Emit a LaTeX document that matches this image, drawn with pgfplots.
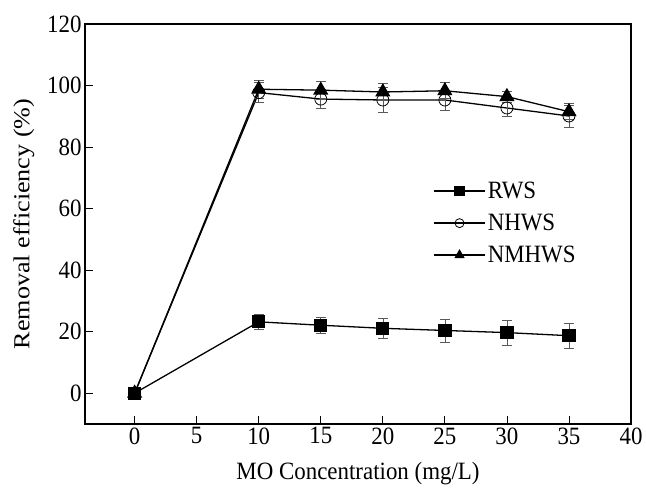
\documentclass[border=0pt]{standalone}
\usepackage{pgfplots}
\pgfplotsset{compat=1.18}
\usepackage{fontspec}
\setmainfont{Liberation Serif}
\newfontfamily\hfont[FakeStretch=0.92]{Liberation Serif}
\newfontfamily\vfont[FakeStretch=1.14]{Liberation Serif}
\begin{document}
\begin{tikzpicture}
\begin{axis}[
  scale only axis,
  width=546bp, height=400bp,
  xmin=-4, xmax=40, ymin=-10, ymax=120,
  xtick={0,5,...,40}, ytick={0,20,...,120},
  tick align=inside,
  xtick pos=bottom, ytick pos=left,
  major tick length=8bp,
  axis line style={line width=1.2pt},
  tick style={black, line width=0.8pt},
  font=\hfont\fontsize{25}{29}\selectfont,
  /pgf/number format/assume math mode=true,
  xlabel={MO Concentration (mg/L)},
  ylabel={Removal efficiency (\%)},
  xlabel style={at={(axis description cs:0.5,-0.123)}, anchor=center},
  ylabel style={at={(axis description cs:-0.112,0.5)}, anchor=center, font=\vfont\fontsize{23}{27}\selectfont},
  legend style={draw=none, fill=none, at={(0.632,0.615)}, anchor=north west,
    font=\hfont\fontsize{25}{29}\selectfont, row sep=10bp},
  legend cell align=left,
  legend image code/.code={\draw[mark repeat=2,mark phase=2,mark size=4.5bp,line width=1.5pt] plot coordinates {(0cm,0cm) (0.9cm,0cm) (1.8cm,0cm)};},
  every axis plot/.append style={line width=1.3pt, black},
  error bars/error bar style={line width=0.6pt, gray!70!black},
  error bars/error mark options={rotate=90, mark size=5bp, line width=0.6pt, gray!70!black},
]
\addplot[mark=square*, mark size=6bp, mark options={solid, fill=black},
  error bars/.cd, y dir=both, y explicit]
  coordinates {
  (0,0) +- (0,0)
  (10,23.2) +- (0,2.4)
  (15,22.1) +- (0,2.5)
  (20,21.1) +- (0,3.1)
  (25,20.4) +- (0,3.7)
  (30,19.7) +- (0,4.1)
  (35,18.7) +- (0,4.0)
  };
\addlegendentry{RWS}
\addplot[mark=o, mark size=6bp, mark options={solid, fill=white, line width=0.8pt},
  error bars/.cd, y dir=both, y explicit]
  coordinates {
  (0,0) +- (0,0)
  (10,97.7) +- (0,3.2)
  (15,95.6) +- (0,3.1)
  (20,95.3) +- (0,4.1)
  (25,95.3) +- (0,3.3)
  (30,92.7) +- (0,2.8)
  (35,90.1) +- (0,3.6)
  };
\addlegendentry{NHWS}
\addplot[mark=triangle*, mark size=7.5bp, mark options={solid, fill=black},
  error bars/.cd, y dir=both, y explicit]
  coordinates {
  (0,0) +- (0,0)
  (10,98.8) +- (0,2.8)
  (15,98.5) +- (0,3.0)
  (20,97.9) +- (0,2.7)
  (25,98.3) +- (0,2.6)
  (30,96.4) +- (0,1.8)
  (35,91.5) +- (0,2.6)
  };
\addlegendentry{NMHWS}
\coordinate (bl) at (rel axis cs:0,0);
\coordinate (tr) at (rel axis cs:1,1);
\end{axis}
\pgfresetboundingbox
\path ([shift={(-85bp,-72bp)}]bl) rectangle ([shift={(15bp,24bp)}]tr);
\end{tikzpicture}
\end{document}
